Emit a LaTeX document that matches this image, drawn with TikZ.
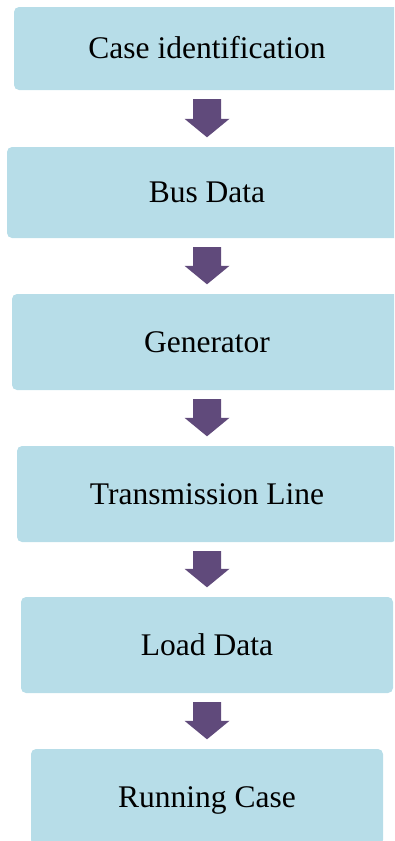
\documentclass[tikz,border=0pt]{standalone}
\usepackage{fontspec}
\setmainfont{Liberation Serif}
\usetikzlibrary{calc}
\definecolor{boxcol}{RGB}{183,221,232}
\definecolor{arrowcol}{RGB}{96,74,123}
\tikzset{
  stepbox/.style={rectangle, rounded corners=5pt, fill=boxcol, draw=none,
    inner sep=0pt, text height=20.9pt, text depth=0pt,
    font=\fontsize{31.5}{38}\selectfont, text=black},
  blockarrow/.style={fill=arrowcol, draw=none, to path={
    let \p1=(\tikztostart), \p2=(\tikztotarget) in
    (\x1-14pt,\y1-9pt) -- (\x1+14pt,\y1-9pt) -- (\x1+14pt,\y2+28pt)
    -- (\x1+22.5pt,\y2+28pt) -- (\x1,\y2+9.5pt) -- (\x1-22.5pt,\y2+28pt)
    -- (\x1-14pt,\y2+28pt) -- cycle}}
}
\begin{document}
\begin{tikzpicture}[x=1pt,y=1pt]
\useasboundingbox (0,0) rectangle (394,-841);
\clip (0,0) rectangle (394,-841);
\node[stepbox, minimum width=386pt, minimum height=83pt] (b1) at (207,-48.5) {Case identification};
\node[stepbox, minimum width=400pt, minimum height=91pt] (b2) at (207,-192.5) {Bus Data};
\node[stepbox, minimum width=390pt, minimum height=96pt] (b3) at (207,-342) {Generator};
\node[stepbox, minimum width=380pt, minimum height=96pt] (b4) at (207,-494) {Transmission Line};
\node[stepbox, minimum width=372pt, minimum height=96pt] (b5) at (207,-645) {Load Data};
\node[stepbox, minimum width=352pt, minimum height=96pt] (b6) at (207,-797) {Running Case};
\path[blockarrow] (b1.south) to (b2.north);
\path[blockarrow] (b2.south) to (b3.north);
\path[blockarrow] (b3.south) to (b4.north);
\path[blockarrow] (b4.south) to (b5.north);
\path[blockarrow] (b5.south) to (b6.north);
\end{tikzpicture}
\end{document}
